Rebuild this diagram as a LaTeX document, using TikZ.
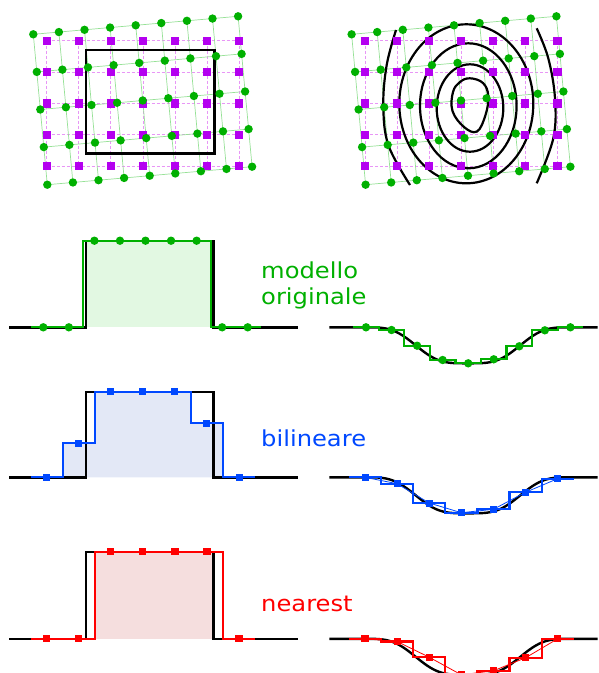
\documentclass[tikz,border=0pt]{standalone}
\usepackage{fontspec}
\setmainfont{DejaVu Sans}
\newfontfamily\lblfont[FakeStretch=1.1]{DejaVu Sans}
\begin{document}
\begin{tikzpicture}[x=1pt,y=-1pt,
  declare function={sv(\t)=0.5+0.5*cos((\t-468)*1.7192); dipf(\t)=36*sv(\t)*sv(\t)*(3-2*sv(\t));}]
\definecolor{gG}{RGB}{0,176,0}
\definecolor{gB}{RGB}{0,72,255}
\definecolor{gR}{RGB}{255,0,0}
\definecolor{gM}{RGB}{180,0,240}
\definecolor{gMl}{RGB}{232,150,246}
\definecolor{gGl}{RGB}{150,225,150}
\definecolor{fG}{RGB}{226,248,226}
\definecolor{fB}{RGB}{227,232,246}
\definecolor{fR}{RGB}{245,222,222}
\tikzset{
 magline/.style={gMl, line width=0.7pt, densely dashed},
 grnline/.style={gGl, line width=0.7pt},
 blk/.style={black, line width=2.4pt, line join=miter},
 stepG/.style={gG, line width=2.2pt},
 stepB/.style={gB, line width=2.2pt},
 stepR/.style={gR, line width=2.2pt},
 thinB/.style={gB, line width=0.8pt},
 thinR/.style={gR, line width=0.8pt},
 spir/.style={black, line width=2.2pt},
 lbl/.style={inner sep=0pt, font=\lblfont\fontsize{22}{26}\selectfont, align=left}
}
\useasboundingbox (0,0) rectangle (598,673);
\clip (0,0) rectangle (598,673);

% ---------- top grids ----------
\foreach \ox in {0,318.3}{
  \foreach \i in {0,...,6}
    \draw[magline] ({\ox+46.7+32.05*\i},40.7) -- ({\ox+46.7+32.05*\i},166.1);
  \foreach \j in {0,...,4}
    \draw[magline] ({\ox+46.7},{40.7+31.35*\j}) -- ({\ox+239},{40.7+31.35*\j});
  \foreach \j in {0,...,4}
    \draw[grnline] ({\ox+33.3+3.5*\j},{34.3+37.6*\j}) -- ({\ox+33.3+204.8+3.5*\j},{34.3-18+37.6*\j});
  \foreach \i in {0,...,8}
    \draw[grnline] ({\ox+33.3+25.6*\i},{34.3-2.25*\i}) -- ({\ox+33.3+25.6*\i+14},{34.3-2.25*\i+150.4});
}
% black rectangle
\draw[black, line width=2.6pt] (86,50) rectangle (214.3,153.3);
% contour rings
\draw[spir] (466.3,103.8) ellipse [x radius=67pt, y radius=79.5pt];
\draw[spir] (468.3,105.8) ellipse [x radius=48.3pt, y radius=62.5pt];
\draw[spir] (470,108) ellipse [x radius=33.3pt, y radius=43.7pt];
\draw[spir] plot[smooth cycle, tension=0.65] coordinates {(470,78.3) (483,83) (488.3,96) (485.5,115) (477,131.5) (464,127) (452.5,111) (453,92) (460,82)};
\draw[spir] plot[smooth, tension=0.6] coordinates {(396,30) (386.7,65) (383.3,105) (388.3,145) (410,185)};
\draw[spir] plot[smooth, tension=0.6] coordinates {(536.7,28.3) (548.3,58.3) (555,98.3) (553.3,138.3) (536.7,183.3)};

\foreach \ox in {0,318.3}{
  \foreach \i in {0,...,6}
    \foreach \j in {0,...,4}
      \fill[gM] ({\ox+46.7+32.05*\i-4.2},{40.7+31.35*\j-4.2}) rectangle ++(8.4,8.4);
  \foreach \i in {0,...,8}
    \foreach \j in {0,...,4}
      \fill[gG] ({\ox+33.3+25.6*\i+3.5*\j},{34.3-2.25*\i+37.6*\j}) circle[radius=4.2pt];
}

% ---------- labels ----------
\node[lbl, text=gG, anchor=north west] (lblorig) at (261,261.8) {modello\\originale};
\node[lbl, text=gB, anchor=base west] (lblbil) at (261,446) {bilineare};
\node[lbl, text=gR, anchor=base west] (lblnear) at (261,611.5) {nearest};

% ---------- row 1: original (green) ----------
\fill[fG] (86,240.7) rectangle (210.7,327.3);
\draw[blk] (9.3,327.3) -- (86,327.3) -- (86,240.7) -- (213.3,240.7) -- (213.3,327.3) -- (297.7,327.3);
\draw[stepG] (30.5,327.3) -- (82.7,327.3) -- (82.7,240.7) -- (210.7,240.7) -- (210.7,327.3) -- (260.8,327.3);
\foreach \k/\v in {0/327.3,1/327.3,2/240.7,3/240.7,4/240.7,5/240.7,6/240.7,7/327.3,8/327.3}
  \fill[gG] ({43.3+25.55*\k},\v) circle[radius=4.2pt];

\draw[blk] (329.3,327.3) -- (364,327.3) -- plot[domain=364:572, samples=90] (\x,{327.3+dipf(\x)}) -- (597.7,327.3);
\draw[stepG] (353.2,327.3) -- (378.8,327.3) -- (378.8,330) -- (404.3,330) -- (404.3,345.7) -- (429.9,345.7) -- (429.9,360) -- (455.4,360) -- (455.4,363.3) -- (481,363.3) -- (481,359.3) -- (506.5,359.3) -- (506.5,346.3) -- (532.1,346.3) -- (532.1,330.3) -- (557.6,330.3) -- (557.6,327.3) -- (583.2,327.3);
\foreach \x/\y in {366/327.3,391.55/330,417.1/345.7,442.65/360,468.2/363.3,493.75/359.3,519.3/346.3,544.85/330.3,570.4/327.3}
  \fill[gG] (\x,\y) circle[radius=4.2pt];

% ---------- row 2: bilinear (blue) ----------
\fill[fB] (62.7,477.3) -- (62.7,443) -- (94.7,443) -- (94.7,391.7) -- (190.9,391.7) -- (190.9,423.3) -- (222.9,423.3) -- (222.9,477.3) -- cycle;
\draw[blk] (9.3,477.3) -- (86,477.3) -- (86,391.7) -- (213.3,391.7) -- (213.3,477.3) -- (297.7,477.3);
\draw[stepB] (30.7,477.3) -- (62.7,477.3) -- (62.7,443) -- (94.7,443) -- (94.7,391.7) -- (190.9,391.7) -- (190.9,423.3) -- (222.9,423.3) -- (222.9,477.3) -- (254.9,477.3);
\foreach \x/\y in {46.7/477.3,78.75/443,110.8/391.7,142.85/391.7,174.9/391.7,206.95/423.3,239/477.3}
  \fill[gB] (\x-3.5,\y-3.5) rectangle ++(7,7);

\draw[blk] (329.3,477.3) -- (364,477.3) -- plot[domain=364:572, samples=90] (\x,{477.3+dipf(\x)}) -- (597.7,477.3);
\draw[stepB] (349,477.3) -- (381,477.3) -- (381,483.7) -- (413.2,483.7) -- (413.2,503) -- (445.3,503) -- (445.3,512.7) -- (477.4,512.7) -- (477.4,509.3) -- (509.5,509.3) -- (509.5,492.3) -- (541.6,492.3) -- (541.6,478.7) -- (573.7,478.7);
\draw[thinB] (365,477.3) -- (397.1,483.7) -- (429.2,503) -- (461.3,512.7) -- (493.4,509.3) -- (525.5,492.3) -- (557.6,478.7);
\foreach \x/\y in {365/477.3,397.1/483.7,429.2/503,461.3/512.7,493.4/509.3,525.5/492.3,557.6/478.7}
  \fill[gB] (\x-3.5,\y-3.5) rectangle ++(7,7);

% ---------- row 3: nearest (red) ----------
\fill[fR] (94.7,551.7) rectangle (213.3,638.7);
\draw[blk] (9.3,638.7) -- (86,638.7) -- (86,551.7) -- (213.3,551.7) -- (213.3,638.7) -- (297.7,638.7);
\draw[stepR] (30.7,638.7) -- (94.7,638.7) -- (94.7,551.7) -- (222.9,551.7) -- (222.9,638.7) -- (254.9,638.7);
\foreach \x/\y in {46.7/638.7,78.75/638.7,110.8/551.7,142.85/551.7,174.9/551.7,206.95/551.7,239/638.7}
  \fill[gR] (\x-3.6,\y-3.6) rectangle ++(7.2,7.2);

\draw[blk] (329.3,638.8) -- (364,638.8) -- plot[domain=364:572, samples=90] (\x,{638.8+dipf(\x)}) -- (597.7,638.8);
\draw[stepR] (349,638.8) -- (381,638.8) -- (381,641.5) -- (413.2,641.5) -- (413.2,657.2) -- (445.3,657.2) -- (445.3,674.8) -- (477.4,674.8) -- (477.4,670.8) -- (509.5,670.8) -- (509.5,657.8) -- (541.6,657.8) -- (541.6,638.8) -- (573.7,638.8);
\draw[thinR] (365,638.8) -- (397.1,641.5) -- (429.2,657.2) -- (461.3,674.8) -- (493.4,670.8) -- (525.5,657.8) -- (557.6,638.8);
\foreach \x/\y in {365/638.8,397.1/641.5,429.2/657.2,461.3/674.8,493.4/670.8,525.5/657.8,557.6/638.8}
  \fill[gR] (\x-3.6,\y-3.6) rectangle ++(7.2,7.2);
\end{tikzpicture}
\end{document}
